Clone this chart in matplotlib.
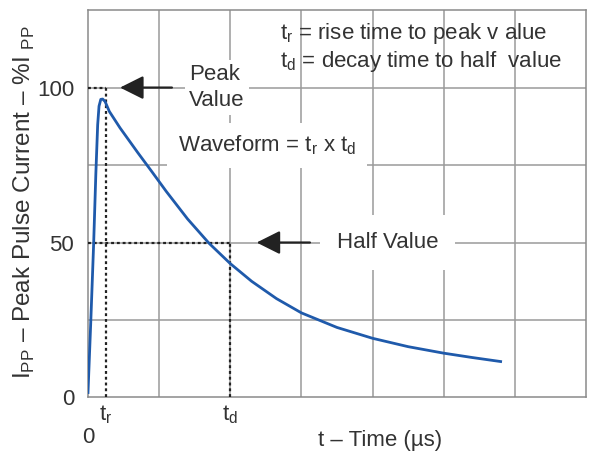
import numpy as np
import matplotlib.pyplot as plt
import matplotlib.transforms as mtransforms

plt.rcParams['font.family'] = ['Liberation Sans', 'DejaVu Sans']
plt.rcParams['mathtext.fontset'] = 'custom'
plt.rcParams['mathtext.rm'] = 'Liberation Sans'

# pulse waveform (x in grid units, y in % of Ipp)
t = [0.0, 0.04, 0.08, 0.11, 0.136, 0.155, 0.18, 0.206, 0.24, 0.3, 0.45, 0.7,
     0.9, 1.1, 1.4, 1.7, 2.0, 2.3, 2.65, 3.0, 3.5, 4.0, 4.5, 5.0, 5.4, 5.8]
ipp = [1.6, 25, 50, 72, 88, 94, 96.2, 96.3, 95.5, 92.3, 87.0, 79.0,
       72.8, 66.5, 57.6, 49.8, 43.2, 37.5, 31.9, 27.3, 22.6, 19.1, 16.4, 14.3, 12.9, 11.6]
t_rise = 0.25
t_decay = 2.0
peak = 100
half = 50
grid_x = [1, 2, 3, 4, 5, 6]
grid_y = [25, 50, 75, 100]
yticks = [0, 50, 100]

txt = '#333333'
fs = 16

fig = plt.figure(figsize=(5.89, 4.59), dpi=100)
ax = fig.add_axes([0.1494, 0.134, 0.8455, 0.844])
ax.set_xlim(0, 7)
ax.set_ylim(0, 125)

for gx in grid_x:
    ax.axvline(gx, color='#9a9a9a', lw=1.1, zorder=1)
for gy in grid_y:
    ax.axhline(gy, color='#9a9a9a', lw=1.1, zorder=1)

for s in ax.spines.values():
    s.set_color('#8a8a8a')
    s.set_linewidth(1.1)

# dotted guides
dots = (0, (1.3, 1.3))
ax.plot([0, t_rise], [peak, peak], color='#222222', ls=dots, lw=1.6, zorder=3)
ax.plot([t_rise, t_rise], [0, peak], color='#222222', ls=dots, lw=1.6, zorder=3)
ax.plot([0, t_decay], [half, half], color='#222222', ls=dots, lw=1.6, zorder=3)
ax.plot([t_decay, t_decay], [0, half], color='#222222', ls=dots, lw=1.6, zorder=3)

ax.plot(t, ipp, color='#1f5aab', lw=2, zorder=4, solid_joinstyle='round')

aprops = dict(arrowstyle='-|>,head_length=0.8,head_width=0.4', color='#222222',
              lw=1.6, mutation_scale=18, shrinkA=0, shrinkB=0)
ax.annotate('', xy=(0.45, peak), xytext=(1.18, peak), arrowprops=aprops, zorder=5)
ax.annotate('', xy=(2.37, half), xytext=(3.12, half), arrowprops=aprops, zorder=5)

box = dict(facecolor='white', edgecolor='none', pad=3)
ax.text(1.42, peak, 'Peak\nValue', ha='left', va='center', fontsize=fs, color=txt,
        linespacing=1.3, bbox=box, zorder=6)
ax.text(4.21, half, 'Half Value', ha='center', va='center', fontsize=fs, color=txt,
        bbox=dict(facecolor='white', edgecolor='none', pad=12), zorder=6)
ax.text(1.26, 81.3, r'Waveform = t$_\mathregular{r}$ x t$_\mathregular{d}$', ha='left',
        va='center', fontsize=fs, color=txt,
        bbox=dict(facecolor='white', edgecolor='none', pad=8), zorder=6)
ax.text(2.7, 117.4, r't$_\mathregular{r}$ = rise time to peak v alue', ha='left',
        va='center', fontsize=fs, color=txt, zorder=6)
ax.text(2.7, 108.4, r't$_\mathregular{d}$ = decay time to half  value', ha='left',
        va='center', fontsize=fs, color=txt, zorder=6)

ax.set_yticks(yticks)
ax.set_yticklabels([str(v) for v in yticks])
ax.set_xticks([t_rise, t_decay])
ax.set_xticklabels([r't$_\mathregular{r}$', r't$_\mathregular{d}$'])
ax.tick_params(axis='y', length=0, pad=10, labelsize=fs, labelcolor=txt)
ax.tick_params(axis='x', length=0, pad=4, labelsize=fs, labelcolor=txt)

trans = mtransforms.blended_transform_factory(ax.transData, ax.transAxes)
ax.text(0, -0.103, '0', transform=trans, ha='center', va='center', fontsize=fs, color=txt)
ax.text(0.586, -0.111, 't – Time (µs)', transform=ax.transAxes, ha='center', va='center',
        fontsize=fs, color=txt)
ax.text(-0.128, 0.505, r'I$_\mathregular{PP}$ – Peak Pulse Current – %I $_\mathregular{PP}$',
        transform=ax.transAxes, rotation=90, ha='center', va='center', fontsize=17.5, color=txt)

fig.savefig('out.png', dpi=100)
